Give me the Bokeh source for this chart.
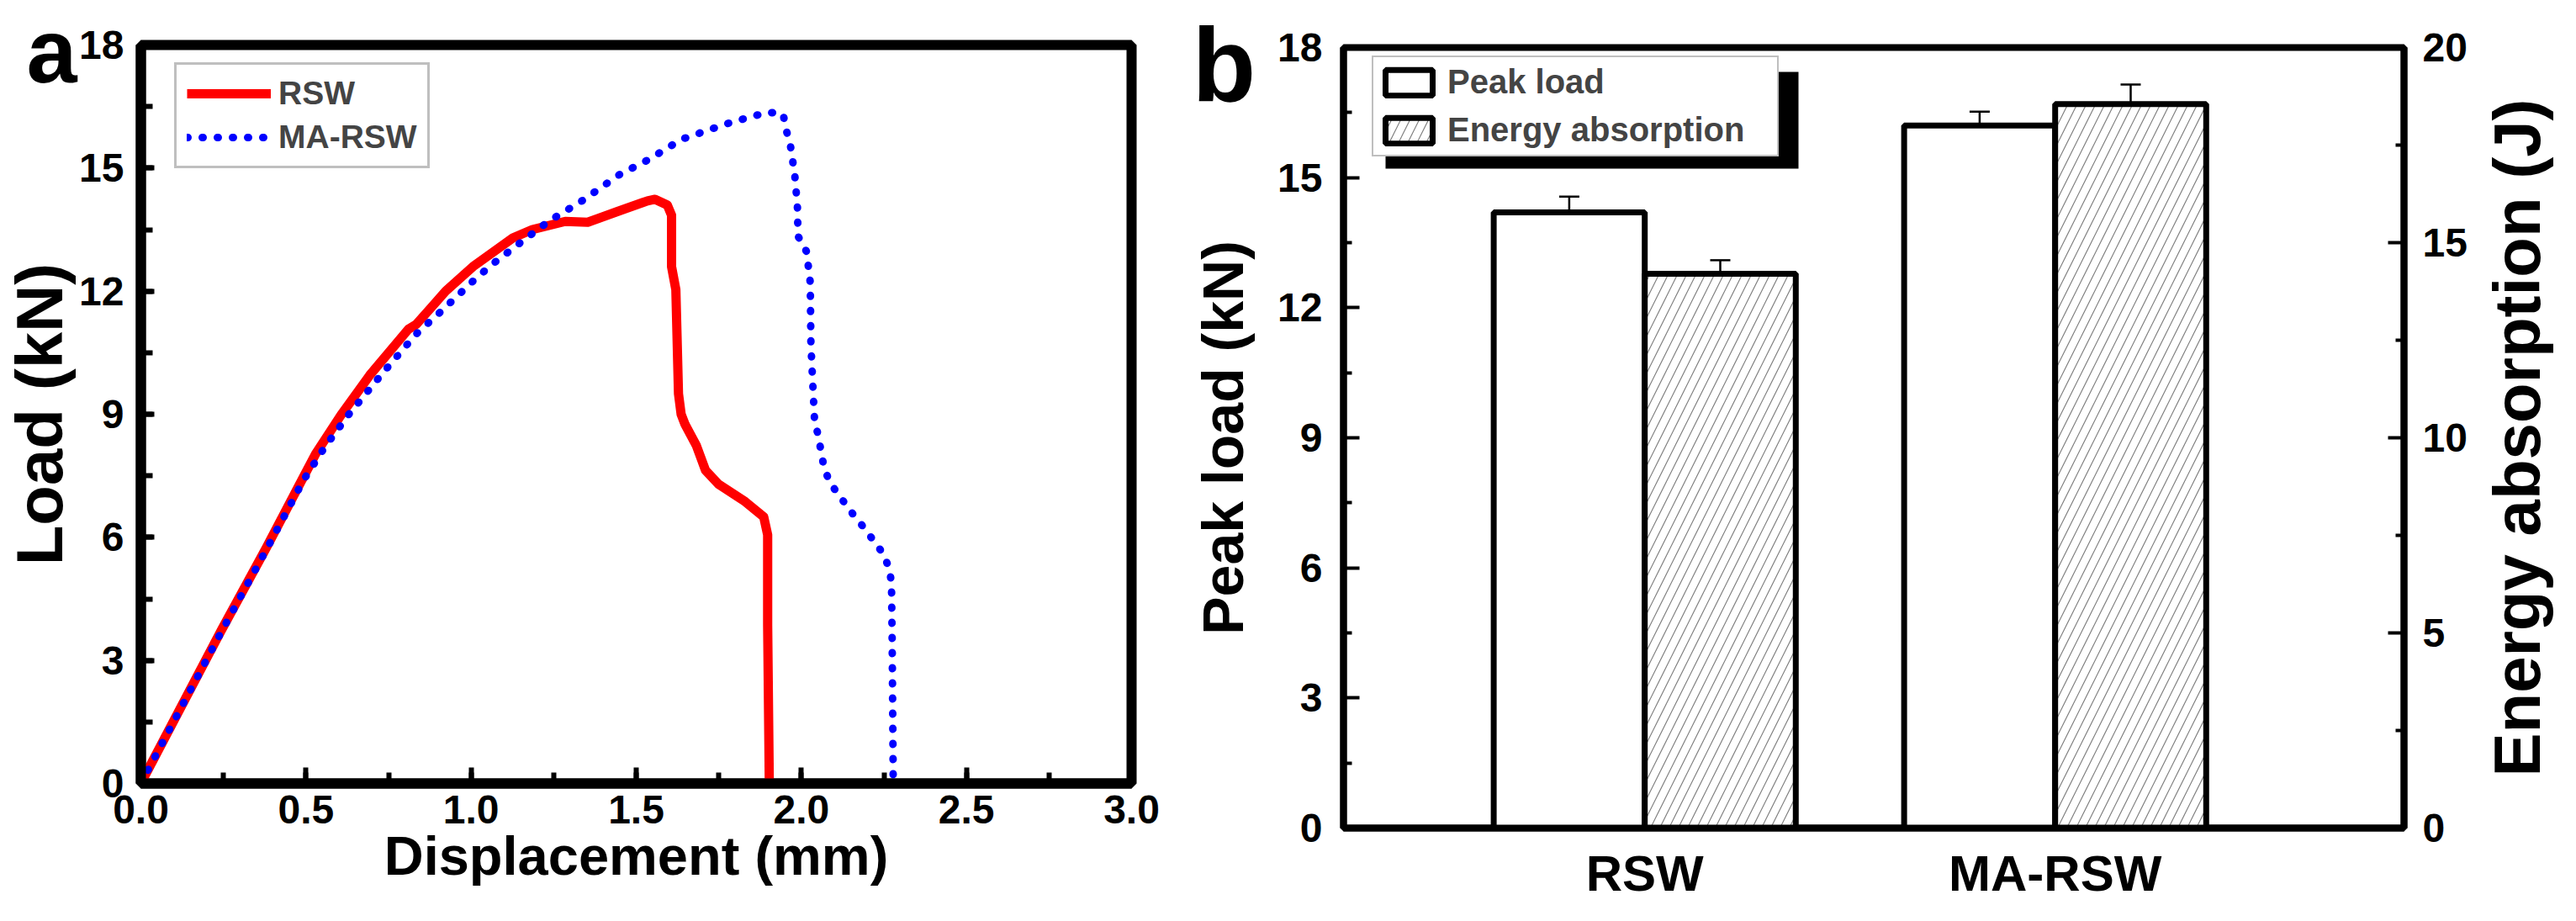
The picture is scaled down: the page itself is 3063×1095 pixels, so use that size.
from bokeh.plotting import figure
from bokeh.layouts import row
from bokeh.models import (Range1d, LinearAxis, FixedTicker, SingleIntervalTicker, Legend,
                          ColumnDataSource, Whisker, TeeHead, BoxAnnotation, Title,
                          NumeralTickFormatter)
from bokeh.embed import file_html
from bokeh.resources import INLINE

# ---------------- Panel a data: load-displacement curves ----------------
rsw_disp = [0.0, 0.244, 0.38, 0.493, 0.529, 0.606, 0.693, 0.81, 0.834, 0.923, 1.009, 1.127,
            1.185, 1.285, 1.353, 1.443, 1.534, 1.557, 1.594, 1.607, 1.607, 1.62, 1.628, 1.636,
            1.648, 1.682, 1.71, 1.75, 1.83, 1.886, 1.898, 1.898, 1.903, 1.949]
rsw_load = [0.0, 3.74, 5.75, 7.48, 8.03, 8.98, 9.95, 11.07, 11.19, 12.0, 12.62, 13.3,
            13.5, 13.7, 13.68, 13.94, 14.2, 14.24, 14.1, 13.85, 12.6, 12.04, 9.5, 9.0,
            8.75, 8.24, 7.63, 7.29, 6.87, 6.5, 6.06, 3.87, 0.0, 0.0]

ma_disp = [0.0, 0.244, 0.38, 0.493, 0.557, 0.63, 0.732, 0.833, 0.908, 1.013, 1.068, 1.157,
           1.236, 1.332, 1.449, 1.536, 1.637, 1.77, 1.856, 1.90, 1.945, 1.953, 1.966, 1.98,
           1.988, 1.99, 2.016, 2.027, 2.029, 2.04, 2.051, 2.068, 2.085, 2.119, 2.153, 2.184,
           2.216, 2.247, 2.267, 2.273, 2.275, 2.278, 2.278, 2.33]
ma_load = [0.0, 3.7, 5.7, 7.4, 8.2, 9.0, 10.0, 10.95, 11.5, 12.3, 12.68, 13.23,
           13.71, 14.18, 14.84, 15.2, 15.7, 16.07, 16.27, 16.36, 16.32, 15.96, 15.6, 14.84,
           14.08, 13.34, 12.96, 12.21, 10.7, 8.85, 8.48, 7.73, 7.35, 6.97, 6.6, 6.29,
           5.95, 5.61, 5.23, 4.86, 3.52, 0.34, 0.0, 0.0]

# ---------------- Panel b data: bar chart ----------------
groups = ["RSW", "MA-RSW"]
peak_load = [14.2, 16.2]          # kN
peak_load_err = [0.36, 0.32]
energy = [14.2, 18.55]            # J
energy_err = [0.35, 0.5]

FONT = "Liberation Sans"


def style_title(t, text, offset, standoff, size, align="left"):
    t.text = text
    t.align = align
    t.vertical_align = "bottom"
    t.offset = offset
    t.standoff = standoff
    t.text_font = FONT
    t.text_font_style = "bold"
    t.text_font_size = size
    t.text_color = "black"


def bold_axis(ax, width, tick_w, major_in, minor_in, size="48px"):
    ax.axis_line_width = width
    ax.axis_line_color = "black"
    ax.major_tick_in = major_in
    ax.major_tick_out = 0
    ax.minor_tick_in = minor_in
    ax.minor_tick_out = 0
    ax.major_tick_line_width = tick_w
    ax.minor_tick_line_width = tick_w
    ax.major_label_text_font = FONT
    ax.major_label_text_font_style = "bold"
    ax.major_label_text_font_size = size
    ax.major_label_text_color = "black"
    ax.axis_label_text_font = FONT
    ax.axis_label_text_font_style = "bold"
    ax.axis_label_text_color = "black"


# =============== Panel a ===============
p1 = figure(width=1392, height=1079, x_range=Range1d(0, 3), y_range=Range1d(0, 18),
            output_backend="svg", toolbar_location=None,
            min_border_left=165, min_border_right=47, min_border_top=53, min_border_bottom=148)
p1.frame_align = False
p1.grid.visible = False
p1.background_fill_color = "white"
p1.border_fill_color = "white"
p1.outline_line_color = "black"
p1.outline_line_width = 12
style_title(p1.title, "a", -136, -134, "108px")

r_rsw = p1.line(rsw_disp, rsw_load, line_color="red", line_width=11, line_join="round")
r_ma = p1.line(ma_disp, ma_load, line_color="blue", line_width=9, line_dash="1 17",
               line_cap="round", line_join="round")

xa = p1.xaxis[0]
xa.ticker = SingleIntervalTicker(interval=0.5, num_minor_ticks=2)
xa.formatter = NumeralTickFormatter(format="0.0")
ya = p1.yaxis[0]
ya.ticker = SingleIntervalTicker(interval=3, num_minor_ticks=2)
bold_axis(xa, 12, 6, 19, 13)
bold_axis(ya, 12, 6, 16, 14)
xa.major_label_standoff = 14
ya.axis_label = "Load (kN)"
ya.axis_label_text_font_size = "78px"
ya.major_label_standoff = 20
ya.axis_label_standoff = 0

# x-axis title of panel a, set below the tick labels
x_title = Title()
style_title(x_title, "Displacement (mm)", 0, -5, "65px", align="center")
p1.add_layout(x_title, "below")

leg1 = Legend(items=[("RSW", [r_rsw]), ("MA-RSW", [r_ma])], location=(40, 731),
              label_text_font=FONT, label_text_font_style="bold", label_text_font_size="39px",
              glyph_width=100, glyph_height=44, label_height=44, label_standoff=9,
              spacing=8, padding=12, border_line_color="#808080", border_line_width=3,
              background_fill_color="white", background_fill_alpha=1.0)
p1.add_layout(leg1)

# =============== Panel b ===============
idx = [1, 2]
bar_w = 0.368
src_peak = ColumnDataSource(dict(
    x=[i - bar_w / 2 for i in idx], top=peak_load,
    upper=[v + e for v, e in zip(peak_load, peak_load_err)],
    lower=[v - e for v, e in zip(peak_load, peak_load_err)]))
src_en = ColumnDataSource(dict(
    x=[i + bar_w / 2 for i in idx], top=energy,
    upper=[v + e for v, e in zip(energy, energy_err)],
    lower=[v - e for v, e in zip(energy, energy_err)]))

p2 = figure(width=1546, height=1079, x_range=Range1d(0.266, 2.85), y_range=Range1d(0, 18),
            output_backend="svg", toolbar_location=None,
            min_border_left=205, min_border_right=80, min_border_top=56, min_border_bottom=95)
p2.frame_align = False
p2.extra_y_ranges = {"energy": Range1d(0, 20)}
p2.grid.visible = False
p2.background_fill_color = "white"
p2.border_fill_color = "white"
p2.outline_line_color = "black"
p2.outline_line_width = 8
style_title(p2.title, "b", -180, -178, "124px")

# legend shadow (drawn first, behind the legend)
p2.add_layout(BoxAnnotation(left=50, right=541, bottom=784, top=899,
                            left_units="screen", right_units="screen",
                            bottom_units="screen", top_units="screen",
                            fill_color="black", fill_alpha=1.0, line_color="black",
                            line_width=0))

b_peak = p2.vbar(x="x", top="top", width=bar_w, bottom=0, source=src_peak,
                 fill_color="white", line_color="black", line_width=7)
b_en = p2.vbar(x="x", top="top", width=bar_w, bottom=0, source=src_en, y_range_name="energy",
               fill_color="white", line_color="black", line_width=7,
               hatch_pattern="/", hatch_color="#808080", hatch_scale=22, hatch_weight=1.2)

p2.add_layout(Whisker(source=src_peak, base="x", upper="upper", lower="lower",
                      line_color="black", line_width=2.5,
                      upper_head=TeeHead(size=24, line_width=2.5, line_color="black"),
                      lower_head=TeeHead(size=24, line_width=2.5, line_color="black")))
p2.add_layout(Whisker(source=src_en, base="x", upper="upper", lower="lower",
                      y_range_name="energy", line_color="black", line_width=2.5,
                      upper_head=TeeHead(size=24, line_width=2.5, line_color="black"),
                      lower_head=TeeHead(size=24, line_width=2.5, line_color="black")))

yr = LinearAxis(y_range_name="energy",
                ticker=FixedTicker(ticks=[0, 5, 10, 15, 20], minor_ticks=[2.5, 7.5, 12.5, 17.5]))
p2.add_layout(yr, "right")

xb = p2.xaxis[0]
xb.ticker = FixedTicker(ticks=idx)
xb.major_label_overrides = {i: g for i, g in zip(idx, groups)}
yb = p2.yaxis[0]
yb.ticker = FixedTicker(ticks=[0, 3, 6, 9, 12, 15, 18],
                        minor_ticks=[1.5, 4.5, 7.5, 10.5, 13.5, 16.5])
yb.axis_label = "Peak load (kN)"
bold_axis(xb, 8, 4, 0, 0, "60px")
bold_axis(yb, 8, 4, 19, 10, "48px")
bold_axis(yr, 8, 4, 19, 10, "48px")
xb.major_label_standoff = 20
yb.axis_label_text_font_size = "68px"
yb.major_label_standoff = 25
yb.axis_label_standoff = 24
yr.major_label_standoff = 22

leg2 = Legend(items=[("Peak load", [b_peak]), ("Energy absorption", [b_en])], location=(34, 798),
              label_text_font=FONT, label_text_font_style="bold", label_text_font_size="40px",
              glyph_width=70, glyph_height=38, label_height=44, label_width=385,
              label_standoff=11, spacing=12, padding=7,
              border_line_color="#808080", border_line_width=2,
              background_fill_color="white", background_fill_alpha=1.0)
p2.add_layout(leg2)

# right-hand axis title of panel b (reads bottom-to-top, as in the original)
p3 = figure(width=109, height=1079, x_range=Range1d(0, 1), y_range=Range1d(0, 20),
            output_backend="svg", toolbar_location=None,
            min_border_left=100, min_border_right=0, min_border_top=56, min_border_bottom=95)
p3.frame_align = False
p3.grid.visible = False
p3.outline_line_color = None
p3.background_fill_color = "white"
p3.border_fill_color = "white"
p3.xaxis.visible = False
ye = p3.yaxis[0]
ye.ticker = FixedTicker(ticks=[])
ye.axis_line_color = None
ye.major_tick_line_color = None
ye.minor_tick_line_color = None
ye.axis_label = "Energy absorption (J)"
ye.axis_label_text_font = FONT
ye.axis_label_text_font_style = "bold"
ye.axis_label_text_font_size = "78px"
ye.axis_label_text_color = "black"
ye.axis_label_standoff = 2

layout = row(p1, p2, p3)
open("out.html", "w").write(file_html(layout, INLINE))
